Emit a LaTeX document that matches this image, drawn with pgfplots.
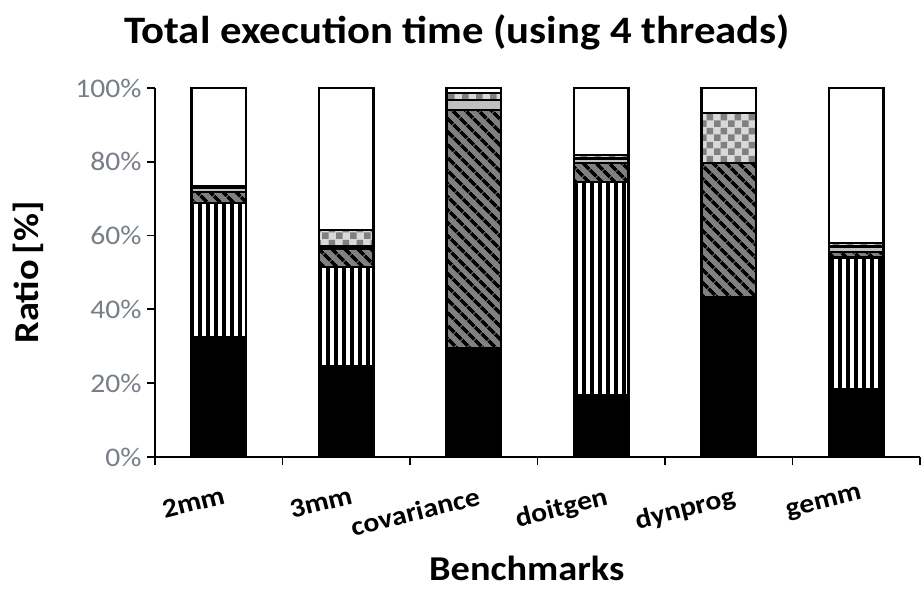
\documentclass[border=0pt]{standalone}
\usepackage{fontspec}
\setmainfont{Carlito}[FakeStretch=1.1]
\usepackage{pgfplots}
\pgfplotsset{compat=1.18}
\usetikzlibrary{patterns,patterns.meta}
\tikzdeclarepattern{name=mychecker, type=uncolored, bounding box={(0,0) and (14bp,14bp)}, tile size={(14bp,14bp)}, code={\fill (0,0) rectangle (7bp,7bp); \fill (7bp,7bp) rectangle (14bp,14bp);}}
\definecolor{tickgray}{RGB}{120,126,136}
\definecolor{midgray}{RGB}{128,128,128}
\definecolor{lgray}{RGB}{192,192,192}
\definecolor{cgray}{RGB}{217,217,217}
\begin{document}
\begin{tikzpicture}[x=1bp,y=1bp]
\useasboundingbox (0,0) rectangle (921,589);
\node[font=\bfseries\fontsize{39}{44}\selectfont, anchor=base] at (457,545) {Total execution time (using 4 threads)};
\begin{axis}[
  at={(155bp,132bp)}, anchor=south west,
  width=765bp, height=369bp, scale only axis,
  ymin=0, ymax=100, xmin=-0.5, xmax=5.5,
  ybar stacked, bar width=0.43,
  axis lines=left, axis line style={-, line width=1.8bp},
  tick align=outside, major tick length=8bp,
  tick style={line width=1.8bp, black},
  ytick={0,20,40,60,80,100},
  yticklabels={0\%,20\%,40\%,60\%,80\%,100\%},
  yticklabel style={font=\fontsize{27}{30}\selectfont, text=tickgray, xshift=-2bp},
  xtick={-0.5,0.5,1.5,2.5,3.5,4.5,5.5},
  x tick label as interval,
  xticklabels={2mm,3mm,covariance,doitgen,dynprog,gemm},
  xticklabel style={font=\bfseries\fontsize{27}{30}\selectfont, rotate=14, anchor=north east, xshift=-2bp, yshift=-21bp, inner sep=0pt},
  ylabel={Ratio\,[\%]},
  ylabel style={font=\bfseries\fontsize{35}{40}\selectfont, at={(axis description cs:-0.165,0.5)}, anchor=center},
  xlabel={Benchmarks},
  xlabel style={font=\bfseries\fontsize{35}{40}\selectfont, at={(axis description cs:0.486,-0.335)}, anchor=base},
  every axis plot/.append style={draw=black, line width=2.5bp},
]
\addplot[fill=black] coordinates {(0,32.5) (1,24.5) (2,29.5) (3,16.8) (4,43.3) (5,18.4)};
\addplot[fill=white, postaction={pattern={Lines[angle=90,distance=8bp,line width=3.5bp]}, pattern color=black}] coordinates {(0,36.3) (1,27.0) (2,0) (3,57.7) (4,0) (5,35.6)};
\addplot[fill=midgray, postaction={pattern={Lines[angle=-45,distance=10bp,line width=4bp]}, pattern color=black}] coordinates {(0,3.0) (1,5.0) (2,64.5) (3,5.2) (4,36.4) (5,1.5)};
\addplot[fill=lgray] coordinates {(0,1.1) (1,0.5) (2,2.8) (3,1.2) (4,0) (5,1.5)};
\addplot[fill=cgray, postaction={pattern=mychecker, pattern color=midgray}] coordinates {(0,0.6) (1,4.5) (2,1.8) (3,1.0) (4,13.5) (5,1.0)};
\addplot[fill=white] coordinates {(0,26.5) (1,38.5) (2,1.4) (3,18.1) (4,6.8) (5,42.0)};
\end{axis}
\end{tikzpicture}
\end{document}
